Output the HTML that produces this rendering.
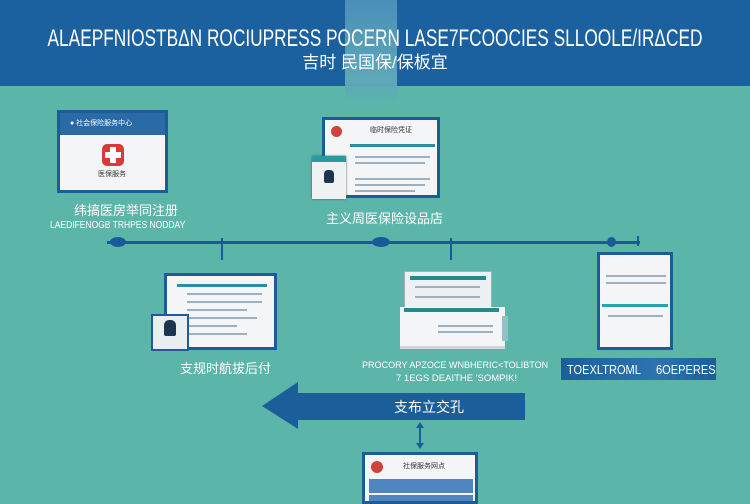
<!DOCTYPE html>
<html><head><meta charset="utf-8"><style>
*{margin:0;padding:0;box-sizing:border-box}
body{width:750px;height:500px;overflow:hidden;background:#5cb5a9;position:relative;font-family:"Liberation Sans","Noto Sans CJK SC",sans-serif}
.a{position:absolute;line-height:1}
.hdr{left:0;top:0;width:750px;height:86px;background:#1b61a0}
.band{left:345px;top:0;width:52px;height:104px;background:linear-gradient(#4a8fb8,#5ea9b8 80%,rgba(92,181,169,0))}
.t{color:#fff;white-space:nowrap}
.card{background:#f3f5f7;border:3px solid #1d5d97}
.ln{background:#9db0c0;height:2px}
.lbl{color:#fff;font-size:13px;white-space:nowrap}
</style></head><body>
<div class="a hdr"></div>
<div class="a band"></div>
<div class="a t" style="left:375px;top:27px;font-size:24px;transform:translateX(-50%) scaleX(0.72)">ALAEPFNIOSTBΔN ROCIUPRESS POCERN LASE7FCOOCIES SLLOOLE/IRΔCED</div>
<div class="a t" style="left:375px;top:54px;font-size:17px;transform:translateX(-50%)">吉时 民国保/保板宜</div>

<!-- card1 -->
<div class="a card" style="left:57px;top:110px;width:111px;height:83px">
 <div style="background:#2a6aa6;height:22px;color:#fff;font-size:7px;padding:7px 0 0 10px;white-space:nowrap;line-height:1">● 社会保险服务中心</div>
 <div class="a" style="left:42px;top:31px;width:22px;height:22px;background:#d83a36;border-radius:5px"></div>
 <div class="a" style="left:50px;top:34px;width:6px;height:16px;background:#fff"></div>
 <div class="a" style="left:45px;top:39px;width:16px;height:6px;background:#fff"></div>
 <div class="a" style="left:38px;top:58px;font-size:7px;color:#333">医保服务</div>
</div>
<div class="a lbl" style="left:74px;top:204px;font-size:13px">纬搞医房举同注册</div>
<div class="a lbl" style="left:50px;top:221px;font-size:10px;transform:scaleX(0.85);transform-origin:left">LAEDIFENOGB TRHPES NODDAY</div>

<!-- card2 -->
<div class="a card" style="left:322px;top:117px;width:118px;height:81px">
 <div class="a" style="left:6px;top:6px;width:11px;height:11px;border-radius:50%;background:#d0433a"></div>
 <div class="a" style="left:45px;top:7px;font-size:7px;color:#333">临时保险凭证</div>
 <div class="a" style="left:25px;top:24px;width:85px;height:3px;background:#2e8aa8"></div>
 <div class="a ln" style="left:30px;top:36px;width:75px"></div>
 <div class="a ln" style="left:30px;top:42px;width:70px"></div>
 <div class="a ln" style="left:30px;top:58px;width:75px"></div>
 <div class="a ln" style="left:30px;top:64px;width:70px"></div>
 <div class="a ln" style="left:30px;top:70px;width:60px"></div>
</div>
<div class="a" style="left:312px;top:156px;width:34px;height:43px;background:#eef2f2;border-top:6px solid #2b9ba0;box-shadow:0 0 2px #555"></div>
<div class="a" style="left:324px;top:170px;width:10px;height:13px;background:#1c3550;border-radius:4px 4px 2px 2px"></div>
<div class="a lbl" style="left:326px;top:212px;font-size:13px">主义周医保险设品店</div>

<!-- timeline -->
<div class="a" style="left:107px;top:241px;width:533px;height:3px;background:#1a5a96"></div>
<div class="a" style="left:110px;top:237px;width:16px;height:10px;border-radius:50%;background:#1a5a96"></div>
<div class="a" style="left:372px;top:237px;width:18px;height:10px;border-radius:50%;background:#1a5a96"></div>
<div class="a" style="left:607px;top:237px;width:9px;height:10px;border-radius:50%;background:#1a5a96"></div>
<div class="a" style="left:221px;top:238px;width:2px;height:22px;background:#1a5a96"></div>
<div class="a" style="left:450px;top:238px;width:2px;height:22px;background:#1a5a96"></div>
<div class="a" style="left:637px;top:236px;width:2px;height:10px;background:#1a5a96"></div>

<!-- card3 -->
<div class="a card" style="left:164px;top:273px;width:113px;height:77px">
 <div class="a" style="left:10px;top:8px;width:90px;height:3px;background:#2a8ea5"></div>
 <div class="a ln" style="left:20px;top:17px;width:75px"></div>
 <div class="a ln" style="left:20px;top:25px;width:75px"></div>
 <div class="a ln" style="left:20px;top:33px;width:60px"></div>
 <div class="a ln" style="left:20px;top:41px;width:70px"></div>
 <div class="a ln" style="left:20px;top:49px;width:50px"></div>
 <div class="a ln" style="left:20px;top:57px;width:60px"></div>
</div>
<div class="a" style="left:151px;top:314px;width:38px;height:37px;background:#e9eef0;border:2px solid #1d5d97"></div>
<div class="a" style="left:164px;top:320px;width:12px;height:16px;background:#1c3550;border-radius:5px 5px 2px 2px"></div>
<div class="a lbl" style="left:180px;top:362px;font-size:13px">支规时航拔后付</div>

<!-- card4 -->
<div class="a" style="left:404px;top:271px;width:88px;height:37px;background:#eef1f3;border:1px solid #aab"></div>
<div class="a" style="left:410px;top:276px;width:76px;height:4px;background:#248a8f"></div>
<div class="a ln" style="left:415px;top:286px;width:65px"></div>
<div class="a ln" style="left:415px;top:296px;width:65px"></div>
<div class="a" style="left:400px;top:307px;width:105px;height:42px;background:#f3f5f6;border-bottom:3px solid #cfd6db"></div>
<div class="a" style="left:404px;top:308px;width:95px;height:4px;background:#248a8f"></div>
<div class="a" style="left:502px;top:316px;width:6px;height:25px;background:#8fc3c6"></div>
<div class="a ln" style="left:438px;top:325px;width:55px"></div>
<div class="a ln" style="left:438px;top:331px;width:55px"></div>
<div class="a lbl" style="left:362px;top:361px;font-size:9.5px;transform:scaleX(0.95);transform-origin:left">PROCORY APZOCE WNBHERIC&lt;TOLIBTON</div>
<div class="a lbl" style="left:396px;top:374px;font-size:9.5px">7 1EGS DEAITHE 'SOMPIK!</div>

<!-- card5 -->
<div class="a card" style="left:597px;top:252px;width:76px;height:98px">
 <div class="a ln" style="left:6px;top:20px;width:60px"></div>
 <div class="a ln" style="left:6px;top:27px;width:60px"></div>
 <div class="a" style="left:2px;top:49px;width:66px;height:3px;background:#2aa0b0"></div>
 <div class="a ln" style="left:8px;top:60px;width:55px"></div>
</div>
<div class="a" style="left:561px;top:358px;width:155px;height:22px;background:linear-gradient(90deg,#1b5f9a,#2c74b0 60%,#1b5f9a);color:#fff;font-size:13px;line-height:22px;white-space:nowrap;overflow:hidden">
 <span class="a" style="left:6px;top:5px;transform:scaleX(0.85);transform-origin:left">TOEXLTROML</span>
 <span class="a" style="left:95px;top:5px;transform:scaleX(0.85);transform-origin:left">6OEPERES</span>
</div>

<!-- big arrow -->
<svg class="a" style="left:0;top:0" width="750" height="500">
 <polygon points="262,406 298,382 298,393 525,393 525,420 298,420 298,429" fill="#1b5f9a"/>
 <line x1="420" y1="425" x2="420" y2="445" stroke="#1b5f9a" stroke-width="2"/>
 <polygon points="416,428 424,428 420,422" fill="#1b5f9a"/>
 <polygon points="416,443 424,443 420,449" fill="#1b5f9a"/>
</svg>
<div class="a lbl" style="left:394px;top:400px;font-size:14px">支布立交孔</div>

<!-- bottom card -->
<div class="a card" style="left:362px;top:452px;width:116px;height:52px">
 <div class="a" style="left:6px;top:6px;width:12px;height:12px;border-radius:50%;background:#d0433a"></div>
 <div class="a" style="left:38px;top:8px;font-size:7px;color:#333">社保服务网点</div>
 <div class="a" style="left:4px;top:24px;width:104px;height:14px;background:#4f86bf"></div>
 <div class="a" style="left:4px;top:40px;width:104px;height:6px;background:#4f86bf"></div>
</div>
</body></html>
